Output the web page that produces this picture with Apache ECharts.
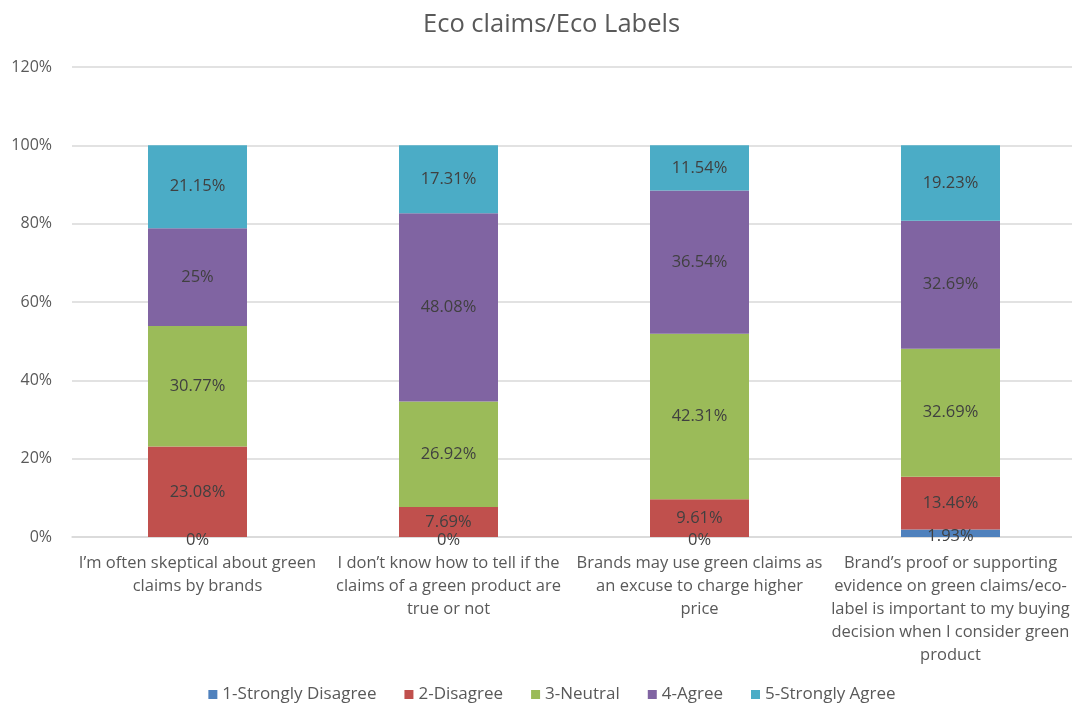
<!DOCTYPE html>
<html>
<head>
<meta charset="utf-8">
<script src="https://cdn.jsdelivr.net/npm/echarts@6/dist/echarts.min.js"></script>
<style>html,body{margin:0;padding:0;background:#fff;overflow:hidden}#c{width:1104px;height:708px}</style>
</head>
<body>
<div id="c"></div>
<script>
const categories = [
  "I’m often skeptical about green\nclaims by brands",
  "I don’t know how to tell if the\nclaims of a green product are\ntrue or not",
  "Brands may use green claims as\nan excuse to charge higher\nprice",
  "Brand’s proof or supporting\nevidence on green claims/eco-\nlabel is important to my buying\ndecision when I consider green\nproduct"
];
const seriesNames = ["1-Strongly Disagree", "2-Disagree", "3-Neutral", "4-Agree", "5-Strongly Agree"];
const stronglyDisagree = [0, 0, 0, 1.93];
const disagree = [23.08, 7.69, 9.61, 13.46];
const neutral = [30.77, 26.92, 42.31, 32.69];
const agree = [25, 48.08, 36.54, 32.69];
const stronglyAgree = [21.15, 17.31, 11.54, 19.23];
const yTicks = [0, 20, 40, 60, 80, 100, 120];

const colors = ["#4F81BD", "#C0504D", "#9BBB59", "#8064A2", "#4BACC6"];
const values = [stronglyDisagree, disagree, neutral, agree, stronglyAgree];
const font = "'Open Sans', 'Noto Sans', sans-serif";

const chart = echarts.init(document.getElementById('c'));
chart.setOption({
  animation: false,
  color: colors,
  title: {
    text: "Eco claims/Eco Labels",
    left: 418, top: 7,
    textStyle: { fontFamily: font, fontSize: 25.5, fontWeight: 'normal', color: '#595959' }
  },
  legend: {
    bottom: 0, left: 'center',
    itemWidth: 9, itemHeight: 9, itemGap: 28,
    icon: 'rect',
    textStyle: { fontFamily: font, fontSize: 17, color: '#595959' },
    data: seriesNames
  },
  grid: { left: 72, top: 67, width: 1004, height: 470, containLabel: false },
  xAxis: {
    type: 'category',
    data: categories,
    axisLine: { lineStyle: { color: '#D9D9D9', width: 1.5 } },
    axisTick: { show: false },
    axisLabel: { fontFamily: font, fontSize: 16.5, color: '#595959', lineHeight: 23, margin: 15, interval: 0 }
  },
  yAxis: {
    type: 'value', min: 0, max: 120, interval: 20,
    axisLine: { show: false }, axisTick: { show: false },
    splitLine: { lineStyle: { color: '#D9D9D9', width: 1.5 } },
    axisLabel: { fontFamily: font, fontSize: 16, color: '#595959', margin: 20, formatter: v => v + '%' }
  },
  series: seriesNames.map((n, i) => ({
    name: n, type: 'bar', stack: 'total', barWidth: 99,
    data: values[i],
    itemStyle: { color: colors[i] },
    label: {
      show: true, position: 'inside',
      offset: i === 0 ? [0, 3] : [0, 0],
      formatter: p => p.value + '%',
      fontFamily: font, fontSize: 16.5, color: '#404040'
    }
  }))
});
</script>
</body>
</html>
